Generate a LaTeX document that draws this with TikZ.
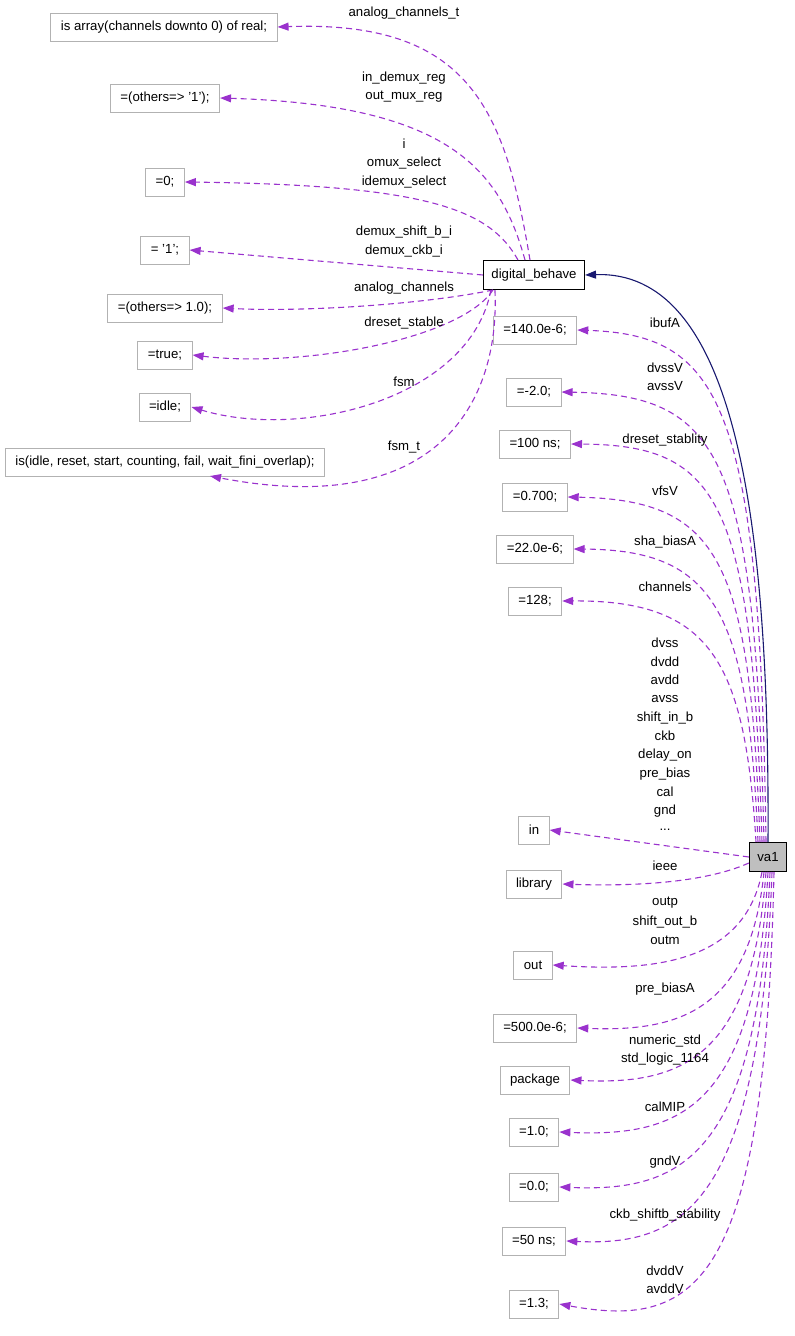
\documentclass[tikz,border=0pt]{standalone}
\usepackage{fontspec}
\setmainfont{Liberation Sans}
\usetikzlibrary{positioning, arrows.meta}

\begin{document}
\begin{tikzpicture}[
  x=1pt, y=-1pt,
  every node/.style={font=\fontsize{13.2}{15}\selectfont},
  valbox/.style={draw=gray!60, line width=1pt, minimum height=28pt, inner xsep=10pt},
  mainbox/.style={draw=black, line width=1pt, minimum height=29pt, inner xsep=8pt},
  dep/.style={dash pattern=on 6pt off 4pt, line width=1.1pt, -{Triangle[length=11pt,width=8pt]}, color={rgb,255:red,154;green,50;blue,205}},
  inh/.style={line width=1.1pt, -{Triangle[length=11pt,width=8pt]}, color={rgb,255:red,25;green,25;blue,112}},
  lbl/.style={inner sep=1pt}
]
\useasboundingbox (0,0) rectangle (795,1336);
% main classes
\node[mainbox] (dbh) at (534,275) {digital\_behave};
\node[mainbox, fill=gray!50] (va) at (768,857) {va1};

% values of digital_behave
\node[valbox] (arr) at (164,27) {is array(channels downto 0) of real;};
\node[valbox] (oth1) at (165,98) {=(others=> '1');};
\node[valbox] (zero) at (165,182) {=0;};
\node[valbox] (one) at (165,250) {= '1';};
\node[valbox] (oth10) at (165,308) {=(others=> 1.0);};
\node[valbox] (tru) at (165,355) {=true;};
\node[valbox] (idl) at (165,407) {=idle;};
\node[valbox] (fsmt) at (165,462) {is(idle, reset, start, counting, fail, wait\_fini\_overlap);};

% values of va1
\node[valbox] (ibuf) at (535,330) {=140.0e-6;};
\node[valbox] (mtwo) at (534,392) {=-2.0;};
\node[valbox] (hns) at (535,444) {=100 ns;};
\node[valbox] (vfs) at (535,497) {=0.700;};
\node[valbox] (sha) at (535,549) {=22.0e-6;};
\node[valbox] (chn) at (535,601) {=128;};
\node[valbox] (inp) at (534,830) {in};
\node[valbox] (lib) at (534,884) {library};
\node[valbox] (outp) at (533,965) {out};
\node[valbox] (pre) at (535,1028) {=500.0e-6;};
\node[valbox] (pkg) at (535,1080) {package};
\node[valbox] (ten) at (534,1132) {=1.0;};
\node[valbox] (zz) at (534,1187) {=0.0;};
\node[valbox] (fns) at (534,1241) {=50 ns;};
\node[valbox] (ott) at (534,1304) {=1.3;};

% inheritance
\draw[inh] (va.north) .. controls (770,500) and (730,270) .. (dbh.east);

% edges of digital_behave
\draw[dep] ([xshift=-4pt]dbh.north) .. controls (505,110) and (470,20) .. (arr.east);
\draw[dep] ([xshift=-9pt]dbh.north) .. controls (500,170) and (450,105) .. (oth1.east);
\draw[dep] ([xshift=-16pt]dbh.north) .. controls (490,210) and (430,185) .. (zero.east);
\draw[dep] (dbh.west) -- (one.east);
\draw[dep] ([xshift=10pt]dbh.south west) .. controls (420,305) and (300,312) .. (oth10.east);
\draw[dep] ([xshift=10pt]dbh.south west) .. controls (460,340) and (300,368) .. (tru.east);
\draw[dep] ([xshift=8pt]dbh.south west) .. controls (470,400) and (300,440) .. (idl.east);
\draw[dep] ([xshift=12pt]dbh.south west) .. controls (500,400) and (440,520) .. (210,476);
\node[lbl] (l1) at (404,13) {analog\_channels\_t};
\node[lbl] (l2) at (404,78) {in\_demux\_reg};
\node[lbl] (l3) at (404,97) {out\_mux\_reg};
\node[lbl] (l4) at (404,144) {i};
\node[lbl] (l5) at (404,163) {omux\_select};
\node[lbl] (l6) at (404,182) {idemux\_select};
\node[lbl] (l7) at (404,232) {demux\_shift\_b\_i};
\node[lbl] (l8) at (404,251) {demux\_ckb\_i};
\node[lbl] (l9) at (404,288) {analog\_channels};
\node[lbl] (l10) at (404,323) {dreset\_stable};
\node[lbl] (l11) at (404,382) {fsm};
\node[lbl] (l12) at (404,447) {fsm\_t};

% edges of va1 (upper)
\draw[dep] ([xshift=-2pt]va.north) .. controls (760,400) and (720,335) .. (ibuf.east);
\draw[dep] ([xshift=-4pt]va.north) .. controls (755,450) and (720,395) .. (mtwo.east);
\draw[dep] ([xshift=-6pt]va.north) .. controls (752,500) and (720,445) .. (hns.east);
\draw[dep] ([xshift=-8pt]va.north) .. controls (750,560) and (720,500) .. (vfs.east);
\draw[dep] ([xshift=-10pt]va.north) .. controls (748,610) and (715,550) .. (sha.east);
\draw[dep] ([xshift=-12pt]va.north) .. controls (745,660) and (710,600) .. (chn.east);
\draw[dep] (va.west) -- (inp.east);
\draw[dep] ([yshift=-6pt]va.west) .. controls (700,885) and (620,886) .. (lib.east);
\node[lbl] (r1) at (665,323) {ibufA};
\node[lbl] (r2) at (665,368) {dvssV};
\node[lbl] (r3) at (665,386) {avssV};
\node[lbl] (r4) at (665,440) {dreset\_stablity};
\node[lbl] (r5) at (665,491) {vfsV};
\node[lbl] (r6) at (665,542) {sha\_biasA};
\node[lbl] (r7) at (665,587) {channels};
\node[lbl] (r8) at (665,643) {dvss};
\node[lbl] (r9) at (665,662) {dvdd};
\node[lbl] (r10) at (665,680) {avdd};
\node[lbl] (r11) at (665,699) {avss};
\node[lbl] (r12) at (665,718) {shift\_in\_b};
\node[lbl] (r13) at (665,736) {ckb};
\node[lbl] (r14) at (665,755) {delay\_on};
\node[lbl] (r15) at (665,774) {pre\_bias};
\node[lbl] (r16) at (665,792) {cal};
\node[lbl] (r17) at (665,811) {gnd};
\node[lbl] (r18) at (665,830) {...};
\node[lbl] (r19) at (665,866) {ieee};

% edges of va1 (lower)
\draw[dep] ([xshift=-6pt]va.south) .. controls (745,960) and (660,972) .. (outp.east);
\draw[dep] ([xshift=-4pt]va.south) .. controls (750,1010) and (680,1032) .. (pre.east);
\draw[dep] ([xshift=-2pt]va.south) .. controls (752,1060) and (680,1085) .. (pkg.east);
\draw[dep] (va.south) .. controls (755,1110) and (680,1137) .. (ten.east);
\draw[dep] ([xshift=2pt]va.south) .. controls (758,1160) and (680,1192) .. (zz.east);
\draw[dep] ([xshift=4pt]va.south) .. controls (760,1210) and (680,1246) .. (fns.east);
\draw[dep] ([xshift=6pt]va.south) .. controls (765,1280) and (700,1330) .. (ott.east);
\node[lbl] (s1) at (665,903) {outp};
\node[lbl] (s2) at (665,922) {shift\_out\_b};
\node[lbl] (s3) at (665,940) {outm};
\node[lbl] (s4) at (665,989) {pre\_biasA};
\node[lbl] (s5) at (665,1041) {numeric\_std};
\node[lbl] (s6) at (665,1059) {std\_logic\_1164};
\node[lbl] (s7) at (665,1107) {calMIP};
\node[lbl] (s8) at (665,1162) {gndV};
\node[lbl] (s9) at (665,1215) {ckb\_shiftb\_stability};
\node[lbl] (s10) at (665,1271) {dvddV};
\node[lbl] (s11) at (665,1289) {avddV};
\end{tikzpicture}
\end{document}
